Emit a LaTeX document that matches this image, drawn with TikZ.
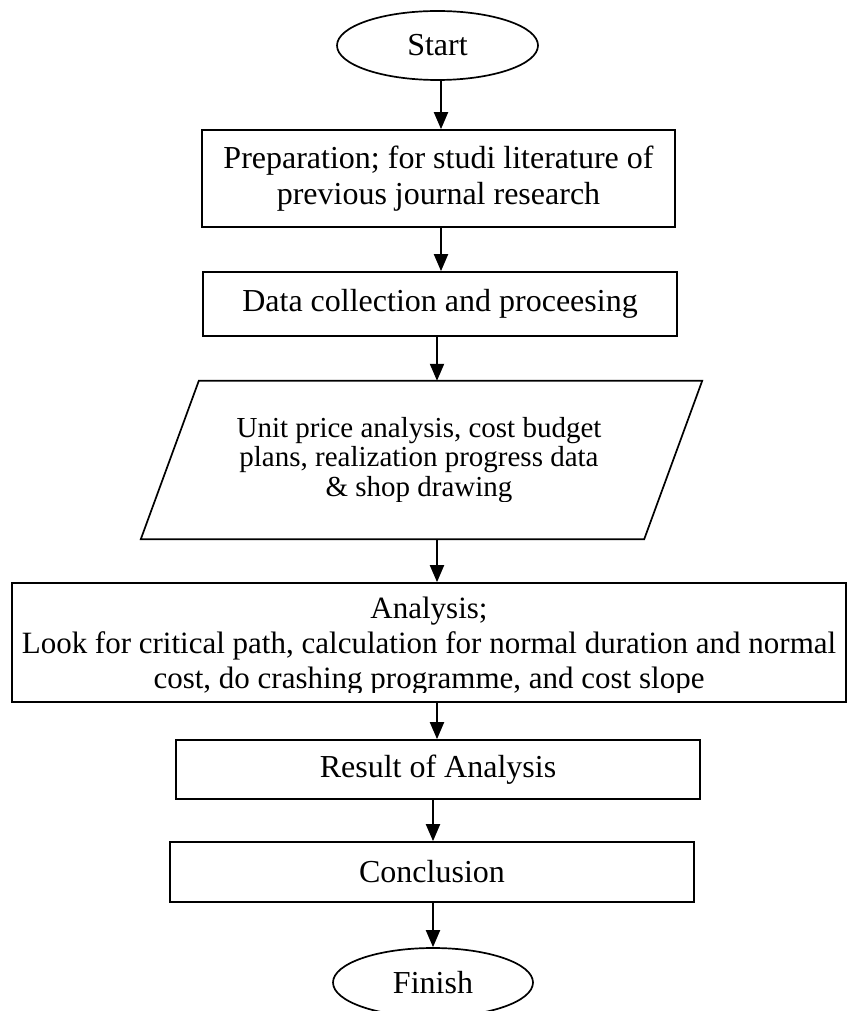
\documentclass[tikz,border=0pt]{standalone}
\usepackage{fontspec}
\setmainfont{Liberation Serif}
\usetikzlibrary{arrows.meta,shapes.geometric}
\begin{document}
\begin{tikzpicture}[x=1pt,y=-1pt,
  box/.style={draw,line width=1.7pt,rectangle,inner sep=0pt,align=center,font=\fontsize{32}{36}\selectfont},
  term/.style={draw,line width=1.7pt,ellipse,inner sep=0pt,font=\fontsize{32}{36}\selectfont},
  txt/.style={inner sep=0pt,align=center},
  arr/.style={line width=2pt,-{Triangle[length=17pt,width=14pt]}}]
\useasboundingbox (0,0) rectangle (849,1011);
\node[term,minimum width=201pt,minimum height=69pt] (start) at (437.5,45.5) {Start};
\node[box,minimum width=473pt,minimum height=97pt] (prep) at (438.5,178.5) {Preparation; for studi literature of\\previous journal research};
\node[box,minimum width=474pt,minimum height=64pt] (data) at (440,304) {Data collection and proceesing};
% parallelogram (data input)
\node[txt,minimum width=503pt,minimum height=158pt] (unit) at (421.5,460) {};
\draw[line width=1.7pt] ([xshift=29pt]unit.north west) -- ([xshift=29pt]unit.north east) -- ([xshift=-29pt]unit.south east) -- ([xshift=-29pt]unit.south west) -- cycle;
\begin{scope}
  \clip (141,383) rectangle (702,501);
  \node[txt,font=\fontsize{29}{29.5}\selectfont] (unittext) at (419,459.8) {Unit price analysis, cost budget\\plans, realization progress data\\\& shop drawing};
\end{scope}
% analysis box
\node[box,minimum width=834pt,minimum height=119pt] (ana) at (429,642.5) {};
\begin{scope}
  \clip (14,585) rectangle (844,692);
  \node[txt,font=\fontsize{31}{35}\selectfont] (anatext) at (429,645.6) {Analysis;\\Look for critical path, calculation for normal duration and normal\\cost, do crashing programme, and cost slope};
\end{scope}
\node[box,minimum width=524pt,minimum height=59pt] (res) at (438,769.5) {Result of Analysis};
\node[box,minimum width=524pt,minimum height=60pt] (con) at (432,872) {Conclusion};
\node[term,minimum width=200pt,minimum height=69pt] (fin) at (433,982.5) {Finish};
\draw[arr] ([xshift=3.5pt]start.south) -- ([xshift=2.5pt]prep.north);
\draw[arr] ([xshift=2.5pt]prep.south) -- ([xshift=1pt]data.north);
\draw[arr] ([xshift=-3pt]data.south) -- ([xshift=15.5pt]unit.north);
\draw[arr] ([xshift=15.5pt]unit.south) -- ([xshift=8pt]ana.north);
\draw[arr] ([xshift=8pt]ana.south) -- ([xshift=-1pt]res.north);
\draw[arr] ([xshift=-5pt]res.south) -- ([xshift=1pt]con.north);
\draw[arr] ([xshift=1pt]con.south) -- (fin.north);
\end{tikzpicture}
\end{document}
